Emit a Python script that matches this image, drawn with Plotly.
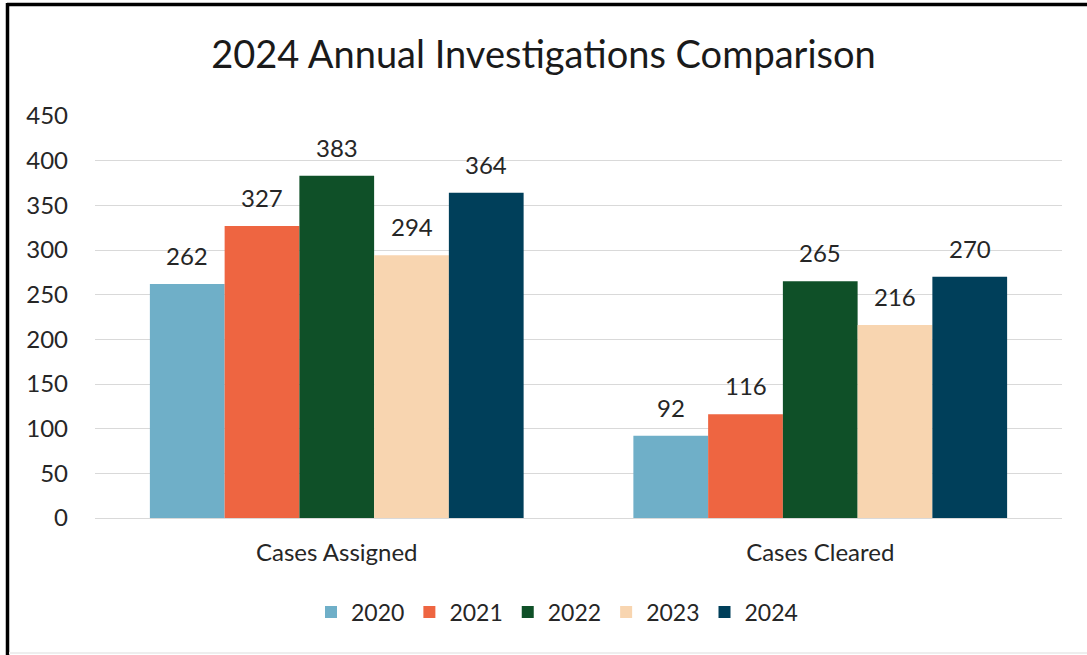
import plotly.graph_objects as go

categories = ["Cases Assigned", "Cases Cleared"]
years = ["2020", "2021", "2022", "2023", "2024"]
values_2020 = [262, 92]
values_2021 = [327, 116]
values_2022 = [383, 265]
values_2023 = [294, 216]
values_2024 = [364, 270]
series_values = [values_2020, values_2021, values_2022, values_2023, values_2024]
colors = ["#6FAFC8", "#EE6541", "#0F5028", "#F8D5B0", "#003F5A"]
y_ticks = [0, 50, 100, 150, 200, 250, 300, 350, 400, 450]

W, H = 1087, 655
ML, MR, MT, MB = 95, 25, 116, 137
PW = W - ML - MR
PH = H - MT - MB
FONT = "Lato, Open Sans, sans-serif"
BARGAP = 0.227

def px(x):
    return (x - ML) / PW

def py(y):
    return (H - MB - y) / PH

fig = go.Figure()
for yr, vals, col in zip(years, series_values, colors):
    fig.add_trace(go.Bar(
        name=yr, x=categories, y=vals, marker_color=col, marker_line_width=0,
        cliponaxis=False,
    ))

# data labels placed through the axes' own coordinates (category index + group offset)
n = len(years)
bw = (1 - BARGAP) / n
for i, vals in enumerate(series_values):
    for j, v in enumerate(vals):
        fig.add_annotation(
            x=j + (i - (n - 1) / 2) * bw, y=v, xref="x", yref="y",
            text=str(v), showarrow=False, yanchor="bottom", yshift=12,
            font=dict(size=24, color="#262626", family=FONT),
        )

fig.update_layout(
    width=W, height=H,
    margin=dict(l=ML, r=MR, t=MT, b=MB),
    paper_bgcolor="white", plot_bgcolor="white",
    barmode="group", bargap=BARGAP, bargroupgap=0,
    font=dict(family=FONT, color="#262626", size=24),
    title=dict(text="2024 Annual Investigations Comparison", x=0.5, xanchor="center",
               y=1 - 55 / H, yanchor="middle",
               font=dict(size=38, color="#1a1a1a")),
    showlegend=True,
    legend=dict(orientation="h", x=px(557), xanchor="center", y=py(612), yanchor="middle",
                font=dict(size=23), itemwidth=30, traceorder="normal"),
)
fig.update_yaxes(range=[0, 450], tickvals=y_ticks, showgrid=True, gridcolor="#D9D9D9",
                 gridwidth=1, zeroline=True, zerolinecolor="#D9D9D9", zerolinewidth=1,
                 showline=False, tickfont=dict(size=24), ticklabelstandoff=26)
fig.update_xaxes(showgrid=False, showline=False, tickfont=dict(size=24),
                 ticklabelstandoff=18)

fig.add_shape(type="line", xref="paper", yref="paper", x0=px(7), x1=px(W), y0=py(4.5), y1=py(4.5),
              line=dict(color="black", width=3.5))
fig.add_shape(type="line", xref="paper", yref="paper", x0=px(7.5), x1=px(7.5), y0=py(3), y1=py(H),
              line=dict(color="black", width=3.5))
fig.add_shape(type="line", xref="paper", yref="paper", x0=px(9), x1=px(W), y0=py(653), y1=py(653),
              line=dict(color="#EEEEEE", width=2))

fig.write_html("out.html", config={"displayModeBar": False},
               post_script="document.body.style.margin='0';")
